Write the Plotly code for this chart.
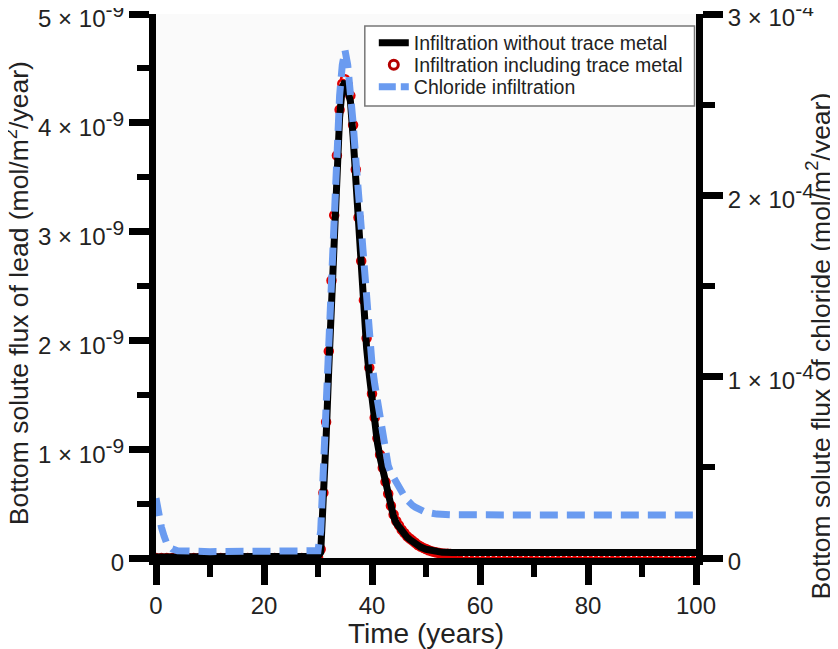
import plotly.graph_objects as go

# ---------------- data ----------------
# Lead flux, infiltration without trace metal (mol/m2/year, x 1e-9)
lead_t = [0, 5, 10, 15, 20, 25, 30, 30.5, 31, 31.5, 32, 32.5, 33, 33.5, 34, 34.5,
          35, 35.5, 36, 36.5, 37, 37.5, 38, 38.5, 39, 39.5, 40, 40.5, 41, 41.5,
          42, 42.5, 43, 43.5, 44, 44.5, 45, 45.5, 46, 46.5, 47, 47.5, 48, 49,
          50, 51, 52, 53, 55, 60, 70, 80, 90, 100]
lead_v = [0.01, 0.01, 0.01, 0.01, 0.01, 0.01, 0.015, 0.05, 0.45, 1.1, 1.75, 2.4, 3.0, 3.6, 4.05, 4.33,
          4.38, 4.3, 4.2, 3.87, 3.44, 3.01, 2.63, 2.28, 1.93, 1.68, 1.45, 1.24, 1.06, 0.92,
          0.8, 0.67, 0.56, 0.46, 0.38, 0.32, 0.28, 0.25, 0.22, 0.19, 0.17, 0.15, 0.13, 0.1,
          0.08, 0.066, 0.057, 0.052, 0.05, 0.05, 0.05, 0.05, 0.05, 0.05]

# Lead flux, infiltration including trace metal (x 1e-9)
metal_t = [0, 1, 2, 3, 4, 5, 6, 7, 8, 9, 10, 11, 12, 13, 14, 15, 16, 17, 18, 19, 20,
           21, 22, 23, 24, 25, 26, 27, 28, 29, 29.5, 30, 30.5, 31, 31.5, 32, 32.5, 33,
           33.5, 34, 34.5, 35, 35.5, 36, 36.5, 37, 37.5, 38, 38.5, 39, 39.5, 40, 40.5,
           41, 41.5, 42, 42.5, 43, 43.5, 44, 44.5, 45, 45.5, 46, 46.5, 47, 47.5, 48,
           48.5, 49, 49.5, 50, 50.5, 51, 51.5, 52, 52.5, 53, 53.5, 54, 54.5, 55, 55.5,
           56, 57, 58, 59, 60, 61, 62, 63, 64, 65, 66, 67, 68, 69, 70, 71, 72, 73, 74,
           75, 76, 77, 78, 79, 80, 81, 82, 83, 84, 85, 86, 87, 88, 89, 90, 91, 92, 93,
           94, 95, 96, 97, 98, 99, 100]
metal_v = [0.0, 0.0, 0.0, 0.0, 0.0, 0.0, 0.0, 0.0, 0.0, 0.0, 0.0, 0.0, 0.0,
           0.0, 0.0, 0.0, 0.0, 0.0, 0.0, 0.0, 0.0, 0.0, 0.0, 0.0, 0.0, 0.0,
           0.0, 0.0, 0.0, 0.0, 0.005, 0.01, 0.08, 0.6, 1.25, 1.9, 2.55, 3.15,
           3.7, 4.12, 4.36, 4.4, 4.35, 4.25, 3.98, 3.57, 3.13, 2.73, 2.37, 2.02, 1.75, 1.51, 1.29,
           1.1, 0.95, 0.83, 0.7, 0.59, 0.48, 0.4, 0.34, 0.3, 0.26, 0.23, 0.2, 0.18, 0.16, 0.14,
           0.12, 0.105, 0.093, 0.082, 0.072, 0.063, 0.056, 0.05, 0.045, 0.042, 0.04, 0.038, 0.036, 0.035, 0.035,
           0.035, 0.035, 0.035, 0.035, 0.035, 0.035, 0.035, 0.035, 0.035, 0.035, 0.035, 0.035, 0.035, 0.035, 0.035,
           0.035, 0.035, 0.035, 0.035, 0.035, 0.035, 0.035, 0.035, 0.035, 0.035, 0.035, 0.035, 0.035, 0.035, 0.035,
           0.035, 0.035, 0.035, 0.035, 0.035, 0.035, 0.035, 0.035, 0.035, 0.035, 0.035, 0.035, 0.035, 0.035,
           0.035, 0.035, 0.035, 0.035, 0.035, 0.035, 0.035]

# Chloride flux (mol/m2/year, x 1e-4)
cl_t = [0, 0.5, 1, 1.5, 2, 3, 4, 10, 20, 29, 30, 30.5, 31, 31.5, 32, 32.5, 33, 33.5, 34,
        34.5, 35, 35.5, 36, 36.5, 37, 37.5, 38, 38.5, 39, 39.5, 40, 40.5, 41, 41.5, 42,
        42.5, 43, 43.5, 44, 44.5, 45, 45.5, 46, 46.5, 47, 47.5, 48, 48.5, 49, 49.5, 50,
        52, 55, 60, 70, 80, 90, 100]
cl_v = [0.33, 0.24, 0.17, 0.12, 0.08, 0.05, 0.04, 0.035, 0.035, 0.035, 0.04, 0.15, 0.5, 0.9, 1.3,
        1.65, 2.0, 2.3, 2.55, 2.72, 2.8, 2.72, 2.58, 2.4, 2.2, 1.99, 1.8, 1.6, 1.4, 1.21,
        1.07, 0.96, 0.86, 0.76, 0.66, 0.58, 0.51, 0.47, 0.44, 0.41, 0.39, 0.36, 0.34, 0.32,
        0.3, 0.29, 0.28, 0.27, 0.265, 0.258, 0.252, 0.242, 0.238, 0.237, 0.237, 0.237,
        0.237, 0.237]

x_ticks = [0, 20, 40, 60, 80, 100]
x_minor = [10, 30, 50, 70, 90]
left_vals = [0, 1, 2, 3, 4, 5]
left_exp = "-9"
left_minor = [0.5, 1.5, 2.5, 3.5, 4.5]
right_vals = [0, 1, 2, 3]
right_exp = "-4"
right_minor = [0.5, 1.5, 2.5]

LEAD_DIV = 1e9
CL_DIV = 1e4

FONT = "Liberation Sans, Arial, sans-serif"
TXT = "#222222"

OFF = 8
W, H = 838 - OFF, 649 - OFF


def sci_label(v, exp):
    if v == 0:
        return "0"
    return f"{v} × 10<sup><span style='font-size:21px'>{exp}</span></sup>"


fig = go.Figure()
fig.add_trace(go.Scatter(
    x=metal_t, y=[v / LEAD_DIV for v in metal_v], mode="markers",
    name="Infiltration including trace metal",
    marker=dict(symbol="circle-open", size=8, color="#e00000", line=dict(width=2.5, color="#e00000")),
    showlegend=False, yaxis="y"))
fig.add_trace(go.Scatter(
    x=cl_t, y=[v / CL_DIV for v in cl_v], mode="lines",
    name="Chloride infiltration",
    line=dict(color="#6a9bf0", width=7, dash="18px,9px"),
    showlegend=False, yaxis="y2"))
fig.add_trace(go.Scatter(
    x=lead_t, y=[v / LEAD_DIV for v in lead_v], mode="lines",
    name="Infiltration without trace metal",
    line=dict(color="black", width=7), yaxis="y", legend="legend"))
# legend entries in the reference order
fig.add_trace(go.Scatter(
    x=[None], y=[None], mode="markers", name="Infiltration including trace metal",
    marker=dict(symbol="circle-open", size=9, color="#b40000", line=dict(width=3, color="#b40000")),
    yaxis="y", legend="legend2"))
fig.add_trace(go.Scatter(
    x=[None], y=[None], mode="lines", name="Chloride infiltration",
    line=dict(color="#6a9bf0", width=7, dash="17px,5px"), yaxis="y2", legend="legend3"))

axis_common = dict(
    showline=True, linewidth=7, linecolor="black", showgrid=False, zeroline=False,
    ticks="outside", ticklen=20, tickwidth=7, tickcolor="black", automargin=False,
    ticklabeloverflow="allow",
)
minor_common = dict(tickmode="array", ticks="outside", ticklen=12, tickwidth=6, tickcolor="black")

# plot area geometry in window pixels
PL, PR, PT, PB = 156, 696.5, 14, 558
PW, PH = PR - PL, PB - PT


def px_x(px):
    return (px - PL) / PW


def px_y(py):
    return (PB - py) / PH


legend_common = dict(xanchor="left", yanchor="middle", bgcolor="rgba(0,0,0,0)",
                     borderwidth=0, font=dict(family=FONT, size=19.5, color=TXT))

title_font = dict(family=FONT, size=26.5, color=TXT)

fig.update_layout(
    width=W, height=H,
    margin=dict(l=PL - OFF, r=838 - PR, t=PT - OFF, b=649 - PB),
    paper_bgcolor="white", plot_bgcolor="#fafafa",
    font=dict(family=FONT, color=TXT),
    xaxis=dict(range=[0, 100], tickmode="array", tickvals=x_ticks,
               minor=dict(tickvals=x_minor, **minor_common),
               tickfont=dict(family=FONT, size=24, color=TXT),
               title=dict(text="Time (years)", font=dict(family=FONT, size=28, color=TXT), standoff=8),
               **axis_common),
    yaxis=dict(range=[0, 5 / LEAD_DIV], tickmode="array",
               tickvals=[v / LEAD_DIV for v in left_vals],
               ticktext=[sci_label(v, left_exp) for v in left_vals],
               minor=dict(tickvals=[v / LEAD_DIV for v in left_minor], **minor_common),
               tickfont=dict(family=FONT, size=24, color=TXT), ticklabelshift=5,
               **axis_common),
    yaxis2=dict(range=[0, 3 / CL_DIV], overlaying="y", side="right", tickmode="array",
                tickvals=[v / CL_DIV for v in right_vals],
                ticktext=[sci_label(v, right_exp) for v in right_vals],
                minor=dict(tickvals=[v / CL_DIV for v in right_minor], **minor_common),
                tickfont=dict(family=FONT, size=24, color=TXT), ticklabelshift=4,
                **axis_common),
    legend=dict(x=px_x(374), y=px_y(43), **legend_common),
    legend2=dict(x=px_x(374), y=px_y(65), **legend_common),
    legend3=dict(x=px_x(374), y=px_y(87), **legend_common),
    showlegend=True,
    shapes=[dict(type="rect", xref="paper", yref="paper", layer="above",
                 x0=px_x(365), x1=px_x(695), y0=px_y(106), y1=px_y(26),
                 fillcolor="white", line=dict(color="#777777", width=1.5))],
    annotations=[
        dict(text="Bottom solute flux of lead (mol/m<sup>2</sup>/year)",
             xref="paper", yref="paper", x=px_x(17), y=px_y(293),
             xanchor="center", yanchor="middle", textangle=-90, showarrow=False,
             font=title_font),
        dict(text="Bottom solute flux of chloride (mol/m<sup>2</sup>/year)",
             xref="paper", yref="paper", x=px_x(819), y=px_y(346),
             xanchor="center", yanchor="middle", textangle=-90, showarrow=False,
             font=title_font),
    ],
)

fig.write_html("out.html")
